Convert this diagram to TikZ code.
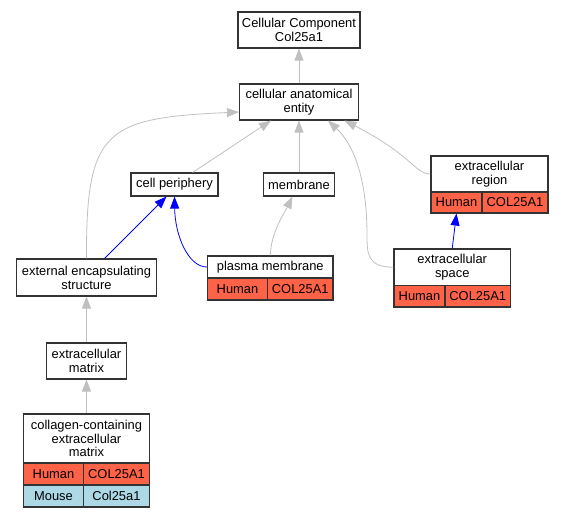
\documentclass[tikz,border=0pt]{standalone}
\usepackage{fontspec}
\setmainfont{Liberation Sans}
\usepackage{xcolor}
\usetikzlibrary{arrows.meta}

\definecolor{humanred}{HTML}{FF6347}
\definecolor{mouseblue}{HTML}{ADD8E6}
\definecolor{isagray}{HTML}{C0C0C0}

\begin{document}
\begin{tikzpicture}[
  x=1pt, y=-1pt,
  % Styles
  term/.style={draw=black!80, line width=1.1pt, fill=white, align=center,
               inner sep=0pt, font=\fontsize{12.9}{13.8}\selectfont},
  human/.style={term, fill=humanred},
  mouse/.style={term, fill=mouseblue},
  isa/.style={-{Triangle[length=12pt, width=9pt]}, draw=isagray, line width=0.8pt},
  partof/.style={-{Triangle[length=12pt, width=9pt]}, draw=blue, line width=0.8pt}
]
\useasboundingbox (0,0) rectangle (563,517);

% --- 1. Root and top term ---
\node[term, minimum width=122pt, minimum height=36pt] (cc) at (299,30) {Cellular Component\\Col25a1};
\node[term, minimum width=119pt, minimum height=36pt] (cae) at (299,102) {cellular anatomical\\entity};

% --- 2. Second level ---
\node[term, minimum width=87pt, minimum height=23pt] (cp) at (174.5,184.5) {cell periphery};
\node[term, minimum width=71pt, minimum height=23pt] (mem) at (299,184.5) {membrane};
\node[term, minimum width=117pt, minimum height=36pt] (er) at (489.5,174) {extracellular\\region};
\node[human, minimum width=51pt, minimum height=21pt] (erh) at (456.5,202.5) {Human};
\node[human, minimum width=66pt, minimum height=21pt] (erg) at (515,202.5) {COL25A1};

% --- 3. Third level ---
\node[term, minimum width=140pt, minimum height=37pt] (ees) at (86.5,277.5) {external encapsulating\\structure};
\node[term, minimum width=125.5pt, minimum height=22pt] (pm) at (270.25,267) {plasma membrane};
\node[human, minimum width=60pt, minimum height=22pt] (pmh) at (237.5,289) {Human};
\node[human, minimum width=65.5pt, minimum height=22pt] (pmg) at (300.25,289) {COL25A1};
\node[term, minimum width=116.5pt, minimum height=36.5pt] (es) at (452.25,267.25) {extracellular\\space};
\node[human, minimum width=51pt, minimum height=21.5pt] (esh) at (419.5,296.25) {Human};
\node[human, minimum width=65.5pt, minimum height=21.5pt] (esg) at (477.75,296.25) {COL25A1};

% --- 4. Matrix branch ---
\node[term, minimum width=80pt, minimum height=36pt] (em) at (86.5,361) {extracellular\\matrix};
\node[term, minimum width=126pt, minimum height=49pt] (ccm) at (86.5,438.5) {collagen-containing\\extracellular\\matrix};
\node[human, minimum width=60pt, minimum height=22pt] (ccmh) at (53.5,474) {Human};
\node[human, minimum width=66pt, minimum height=22pt] (ccmg) at (116.5,474) {COL25A1};
\node[mouse, minimum width=60pt, minimum height=22pt] (ccmm) at (53.5,496) {Mouse};
\node[mouse, minimum width=66pt, minimum height=22pt] (ccmmg) at (116.5,496) {Col25a1};

% --- 5. is_a edges ---
\draw[isa] (cae) -- (cc);
\draw[isa] (cp) -- (cae);
\draw[isa] (mem) -- (cae);
\draw[isa] (ees.north) .. controls (86,130) and (105,118) .. ([yshift=-10pt]cae.west);
\draw[isa] (es.west) .. controls (368,267) and (367,255) .. (367,235)
  .. controls (367,175) and (352,143) .. ([xshift=29pt]cae.south);
\draw[isa] (er.west) .. controls (415,174) and (412,155) .. ([xshift=45.5pt]cae.south);
\draw[isa] (pm.north) .. controls (271,232) and (285,212) .. ([xshift=-6.5pt]mem.south);
\draw[isa] (em) -- (ees);
\draw[isa] (ccm) -- (em);

% --- 6. part_of edges ---
\draw[partof] ([xshift=18pt]ees.north) -- ([xshift=-8pt]cp.south);
\draw[partof] (pm.west) .. controls (188,267) and (175,235) .. (cp.south);
\draw[partof] (es.north) -- (erh.south);

\end{tikzpicture}
\end{document}
